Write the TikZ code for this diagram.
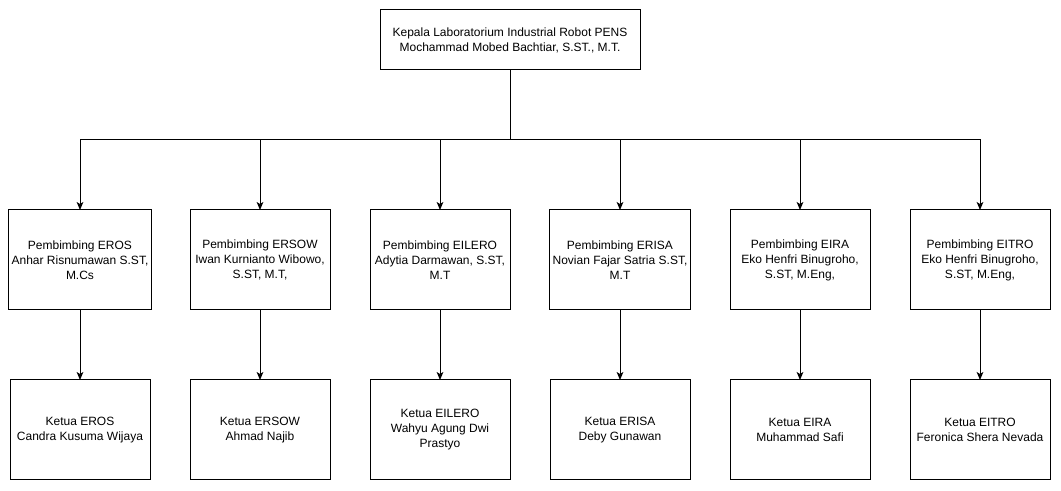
\documentclass[tikz,border=0pt]{standalone}
\usepackage{fontspec}
\setmainfont{Liberation Sans}
\usetikzlibrary{arrows.meta}

\begin{document}
\begin{tikzpicture}[x=.75pt, y=-.75pt, line width=.75pt,
	box/.style={draw, align=center, outer sep=0pt, inner sep=2pt, font=\fontsize{9pt}{11.25pt}\selectfont,
		minimum width=105pt, minimum height=75pt},
	kotak/.style={box, minimum width=195pt, minimum height=45pt},
	panah/.style={-{Stealth[length=6pt, width=5pt, inset=1.5pt]}}]
		\useasboundingbox (0,0) rectangle (1061,491);
		\node[kotak] (kepala) at (510,40) {Kepala Laboratorium Industrial Robot PENS\\Mochammad Mobed Bachtiar, S.ST., M.T.};
		\foreach \i/\x/\pb/\kt in {
			1/80/{Pembimbing EROS\\Anhar Risnumawan S.ST,\\M.Cs}/{Ketua EROS\\Candra Kusuma Wijaya},
			2/260/{Pembimbing ERSOW\\Iwan Kurnianto Wibowo,\\S.ST, M.T,}/{Ketua ERSOW\\Ahmad Najib},
			3/440/{Pembimbing EILERO\\Adytia Darmawan, S.ST,\\M.T}/{Ketua EILERO\\Wahyu Agung Dwi\\Prastyo},
			4/620/{Pembimbing ERISA\\Novian Fajar Satria S.ST,\\M.T}/{Ketua ERISA\\Deby Gunawan},
			5/800/{Pembimbing EIRA\\Eko Henfri Binugroho,\\S.ST, M.Eng,}/{Ketua EIRA\\Muhammad Safi},
			6/980/{Pembimbing EITRO\\Eko Henfri Binugroho,\\S.ST, M.Eng,}/{Ketua EITRO\\Feronica Shera Nevada}}{
			\node[box] (pb\i) at (\x,260) {\pb};
			\node[box] (kt\i) at (\x,430) {\kt};
			\draw[panah] (kepala.south) -- ++(0,70) -| (pb\i.north);
			\draw[panah] (pb\i.south) -- (kt\i.north);
		}
	\end{tikzpicture}
\end{document}
